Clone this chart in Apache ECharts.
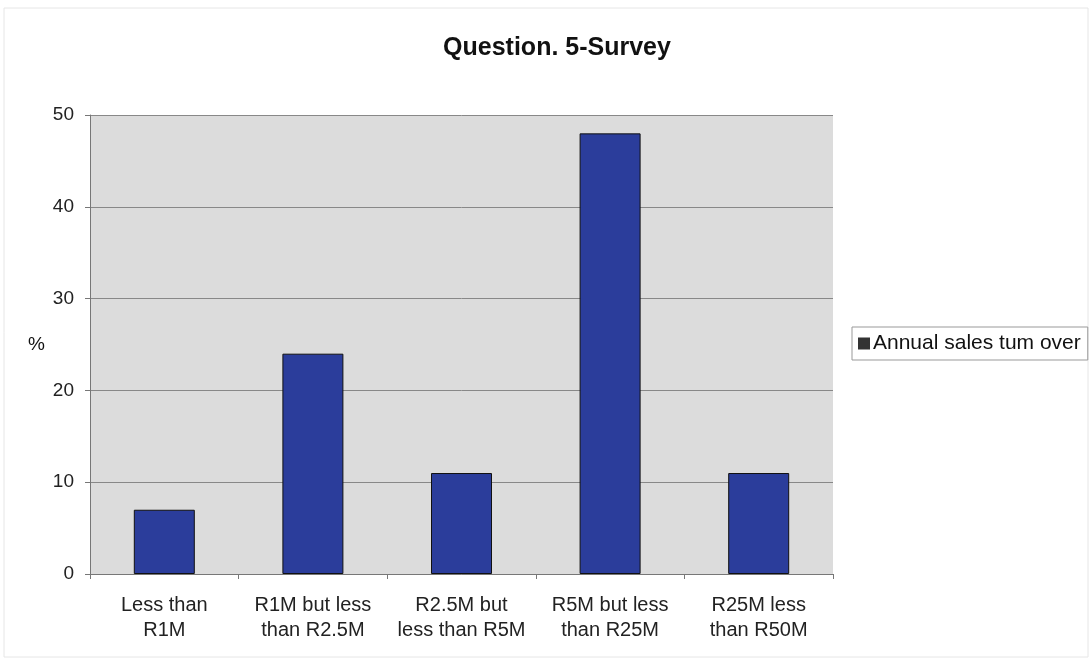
<!DOCTYPE html>
<html><head><meta charset="utf-8">
<script src="https://cdn.jsdelivr.net/npm/echarts@6/dist/echarts.min.js"></script>
<style>html,body{margin:0;padding:0;background:#fff}#c{width:1092px;height:666px}</style>
</head><body><div id="c"></div>
<script>
const categories = ['Less than\nR1M', 'R1M but less\nthan R2.5M', 'R2.5M but\nless than R5M', 'R5M but less\nthan R25M', 'R25M less\nthan R50M'];
const values = [7, 24, 11, 48, 11];
const seriesName = 'Annual sales tum over';
const chart = echarts.init(document.getElementById('c'));
chart.setOption({
  backgroundColor: '#fff',
  animation: false,
  title: { text: 'Question. 5-Survey', left: 552, top: 31, textAlign: 'center',
    textStyle: { fontFamily: 'Liberation Sans', fontWeight: 'bold', fontSize: 25, color: '#111' } },
  graphic: [
    { type: 'rect', shape: { x: 4, y: 8, width: 1084, height: 649 }, style: { fill: 'none', stroke: '#e6e6e6', lineWidth: 1 } },
    { type: 'text', left: 28, top: 335, style: { text: '%', font: '19px "Liberation Sans"', fill: '#111' } }
  ],
  legend: { left: 852, top: 327, orient: 'vertical', itemWidth: 12, itemHeight: 12, itemGap: 0,
    padding: [6, 7, 6, 6], borderColor: '#999', borderWidth: 1, borderRadius: 0,
    textStyle: { fontFamily: 'Liberation Sans', fontSize: 21, color: '#111', padding: [0, 0, 0, -2] },
    itemStyle: { color: '#333', borderWidth: 0 },
    data: [{ name: seriesName, icon: 'rect' }] },
  grid: { left: 90, right: 259, top: 115, bottom: 92, backgroundColor: '#dcdcdc', show: true, borderWidth: 0 },
  xAxis: { type: 'category', data: categories,
    axisLine: { lineStyle: { color: '#777' } },
    axisTick: { show: true, alignWithLabel: false, interval: 0, length: 5, lineStyle: { color: '#777' } },
    axisLabel: { interval: 0, hideOverlap: false, fontFamily: 'Liberation Sans', fontSize: 20, color: '#222', margin: 19, lineHeight: 25 } },
  yAxis: { type: 'value', min: 0, max: 50, interval: 10,
    axisLine: { show: true, lineStyle: { color: '#777' } },
    axisTick: { show: true, length: 5, lineStyle: { color: '#777' } },
    splitLine: { lineStyle: { color: '#888', width: 1 } },
    axisLabel: { fontFamily: 'Liberation Sans', fontSize: 19, color: '#222', margin: 16 } },
  series: [{ name: seriesName, type: 'bar', data: values, barWidth: 61,
    itemStyle: { color: '#2b3d9b', borderColor: '#111', borderWidth: 1 } }]
});
</script></body></html>
